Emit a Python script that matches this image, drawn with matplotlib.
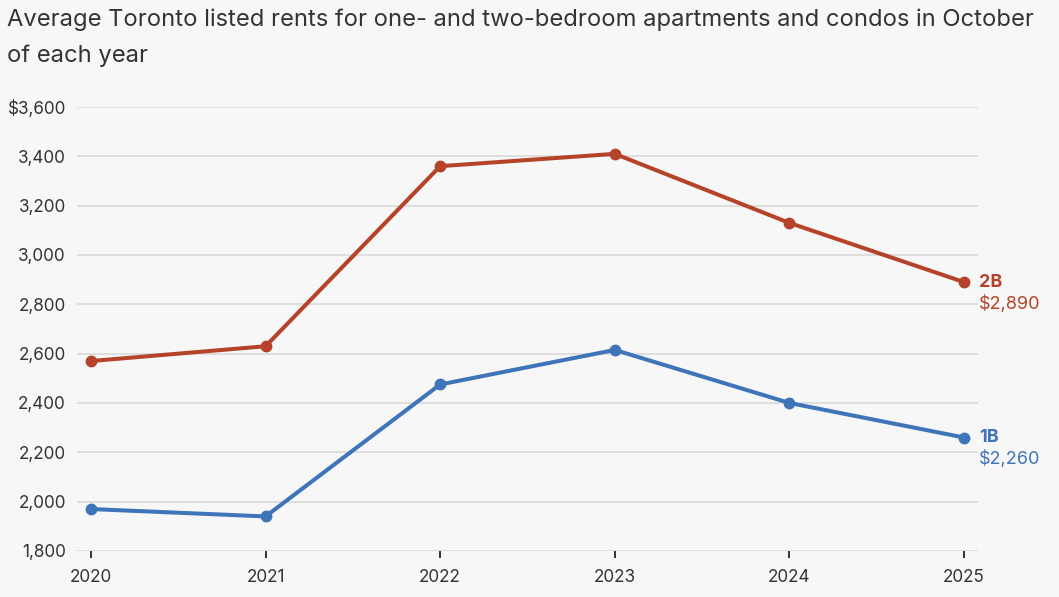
import matplotlib.pyplot as plt
from matplotlib.ticker import FuncFormatter

years = [2020, 2021, 2022, 2023, 2024, 2025]
rent_2b = [2570, 2630, 3360, 3410, 3130, 2890]
rent_1b = [1970, 1940, 2475, 2615, 2400, 2260]
yticks = [1800, 2000, 2200, 2400, 2600, 2800, 3000, 3200, 3400, 3600]

title = "Average Toronto listed rents for one- and two-bedroom apartments and condos in October\nof each year"

bg = '#f7f7f7'
red = '#b5432a'
blue = '#3e74b8'
text_col = '#333333'

plt.rcParams['font.family'] = ['Inter', 'DejaVu Sans']

fig = plt.figure(figsize=(10.59, 5.97), dpi=100, facecolor=bg)
ax = fig.add_axes([0.0727, 0.0771, 0.8508, 0.7437], facecolor=bg)

for vals, col in [(rent_2b, red), (rent_1b, blue)]:
    ax.plot(years, vals, color=col, lw=2.9, marker='o', ms=7.5, zorder=3,
            solid_capstyle='round', clip_on=False)

ax.set_xlim(2019.92, 2025.08)
ax.set_ylim(1800, 3600)
ax.set_yticks(yticks)
ax.set_xticks(years)
ax.yaxis.set_major_formatter(FuncFormatter(
    lambda v, p: f"${v:,.0f}" if v == 3600 else f"{v:,.0f}"))

ax.grid(axis='y', color='#dcdcdc', lw=1.3)
ax.set_axisbelow(True)
for s in ax.spines.values():
    s.set_visible(False)

ax.tick_params(axis='y', length=0, pad=8, labelsize=12.3, labelcolor=text_col)
ax.tick_params(axis='x', length=5, width=1.2, color='#111111', pad=8,
               labelsize=12.3, labelcolor=text_col)

# end labels
ax.annotate("2B", (years[-1], rent_2b[-1]), xytext=(11, 0), textcoords='offset points',
            color=red, fontsize=13, fontweight='bold', va='center')
ax.annotate(f"${rent_2b[-1]:,}", (years[-1], rent_2b[-1]), xytext=(11, -15.5),
            textcoords='offset points', color=red, fontsize=13, va='center')
ax.annotate("1B", (years[-1], rent_1b[-1]), xytext=(11, 0), textcoords='offset points',
            color=blue, fontsize=13, fontweight='bold', va='center')
ax.annotate(f"${rent_1b[-1]:,}", (years[-1], rent_1b[-1]), xytext=(11, -15.5),
            textcoords='offset points', color=blue, fontsize=13, va='center')

fig.text(0.007, 0.985, title, ha='left', va='top', fontsize=17.1, color=text_col,
         linespacing=1.72)

fig.savefig('out.png', dpi=100, facecolor=bg)
